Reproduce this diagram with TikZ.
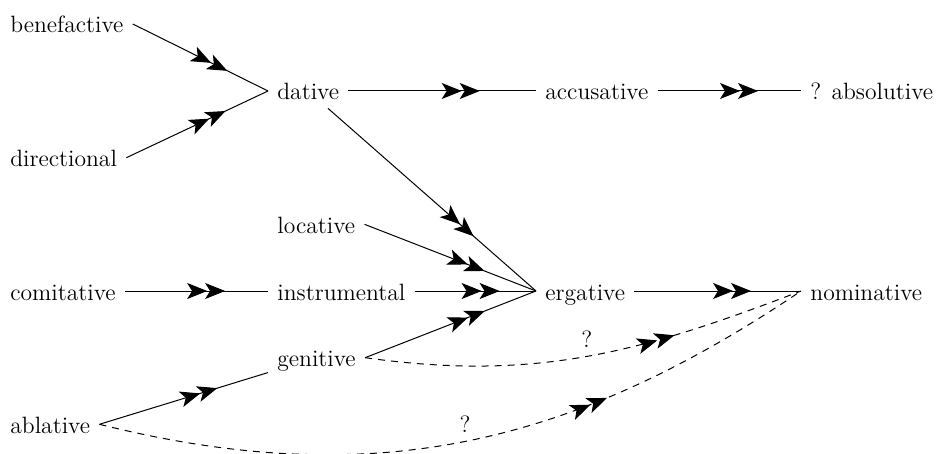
\documentclass[tikz,border=0pt]{standalone}
\usepackage{fontspec}
\usetikzlibrary{arrows.meta,decorations.markings}
\tikzset{
  lbl/.style={font=\fontsize{11.8pt}{14pt}\selectfont, inner xsep=4.5pt, inner ysep=1pt,
    text height=12pt, text depth=3pt, anchor=west},
  >={Stealth[length=10pt,width=8pt,inset=2.5pt]},
  twotip/.style={postaction={decorate,decoration={markings,
     mark=at position #1 with {\arrow{>}\pgftransformxshift{-9pt}\arrow{>}}}}},
  edge/.style={line width=0.5pt, twotip=0.7},
  dedge/.style={edge, dash pattern=on 3.5pt off 3pt},
  qlbl/.style={font=\fontsize{11.8pt}{14pt}\selectfont, above, inner sep=4pt, pos=0.5}
}
\begin{document}
\begin{tikzpicture}[x=0.5pt,y=0.5pt]
\useasboundingbox (0,0) rectangle (936,-454);
\clip (0,0) rectangle (936,-454);
% column 1
\node[lbl] (benefactive) at (1,-24) {benefactive};
\node[lbl] (directional) at (1,-157.7) {directional};
\node[lbl] (comitative) at (1,-291) {comitative};
\node[lbl] (ablative) at (1,-424.3) {ablative};
% column 2
\node[lbl] (dative) at (268,-91) {dative};
\node[lbl] (locative) at (268,-224.3) {locative};
\node[lbl] (instrumental) at (268,-291) {instrumental};
\node[lbl] (genitive) at (268,-357.7) {genitive};
% column 3
\node[lbl] (accusative) at (536,-91) {accusative};
\node[lbl] (ergative) at (536,-291) {ergative};
% column 4
\node[lbl] (absolutive) at (801,-91) {? absolutive};
\node[lbl] (nominative) at (801,-291) {nominative};
% connectors
\draw[edge] (benefactive.east) -- (dative.west);
\draw[edge] (directional.east) -- (dative.west);
\draw[edge] (dative.east) -- (accusative.west);
\draw[edge] (accusative.east) -- (absolutive.west);
\draw[edge] (dative) -- (ergative.west);
\draw[edge] (locative.east) -- (ergative.west);
\draw[edge] (comitative.east) -- (instrumental.west);
\draw[edge] (instrumental.east) -- (ergative.west);
\draw[edge] (genitive.east) -- (ergative.west);
\draw[edge] (ergative.east) -- (nominative.west);
\draw[edge] (ablative.east) -- (genitive);
\draw[dedge] (genitive.east) to[out=-8,in=201] node[qlbl]{?} (nominative.west);
\draw[dedge] (ablative.east) to[out=-14,in=214] node[qlbl]{?} (nominative.west);
\end{tikzpicture}
\end{document}
